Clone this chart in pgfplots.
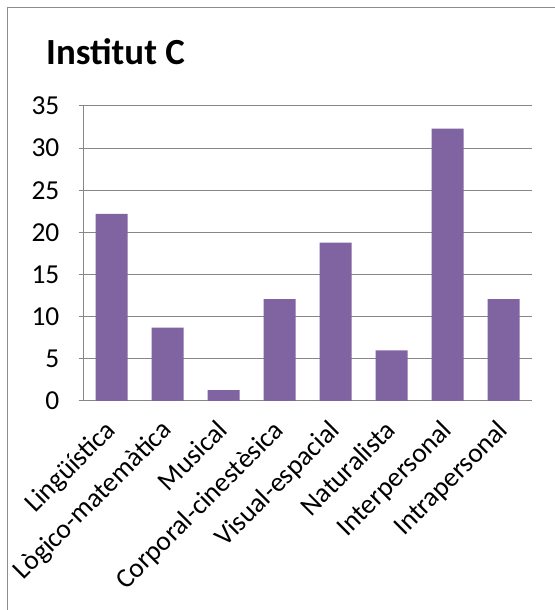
\documentclass[border=0pt]{standalone}
\usepackage{fontspec}
\setmainfont{Carlito}
\usepackage{pgfplots}
\pgfplotsset{compat=1.18}
\definecolor{barc}{HTML}{8064A2}
\definecolor{gridc}{HTML}{878787}
\definecolor{framec}{HTML}{8C8C8C}
\begin{document}
\begin{tikzpicture}[x=1bp,y=1bp]
\useasboundingbox (0,0) rectangle (555,610);
\fill[white] (0,0) rectangle (555,610);
\draw[framec, line width=1.5bp] (7.5,0) -- (7.5,602.5) -- (555,602.5);
\node[anchor=base west, font=\bfseries\fontsize{37}{42}\selectfont, inner sep=0pt] at (46,545) {Institut C};
\begin{axis}[
  at={(83.5bp,209bp)}, anchor=south west,
  scale only axis, width=448bp, height=295bp,
  xmin=-0.5, xmax=7.5, ymin=0, ymax=35,
  ytick={0,5,...,35},
  xtick={0,...,7},
  xticklabels={Lingüística,Lògico-matemàtica,Musical,Corporal-cinestèsica,Visual-espacial,Naturalista,Interpersonal,Intrapersonal},
  ymajorgrids,
  grid style={gridc, line width=1bp},
  axis x line*=bottom, axis y line*=left,
  axis line style={gridc, line width=1bp, -},
  tick align=outside,
  major tick length=5bp,
  y tick style={gridc, line width=1bp},
  x tick style={draw=none},
  tick label style={font=\fontsize{27.5}{30}\selectfont},
  /pgf/number format/assume math mode=true,
  yticklabel style={anchor=east, inner sep=0pt, xshift=-19bp},
  xticklabel style={rotate=45, anchor=north east, inner sep=0pt, xshift=-14bp, yshift=-3bp},
  clip=false,
]
\addplot[ybar, bar width=32bp, fill=barc, draw=none] coordinates {
  (0,22.2) (1,8.7) (2,1.3) (3,12.1) (4,18.8) (5,6.0) (6,32.3) (7,12.1)
};
\end{axis}
\end{tikzpicture}
\end{document}
